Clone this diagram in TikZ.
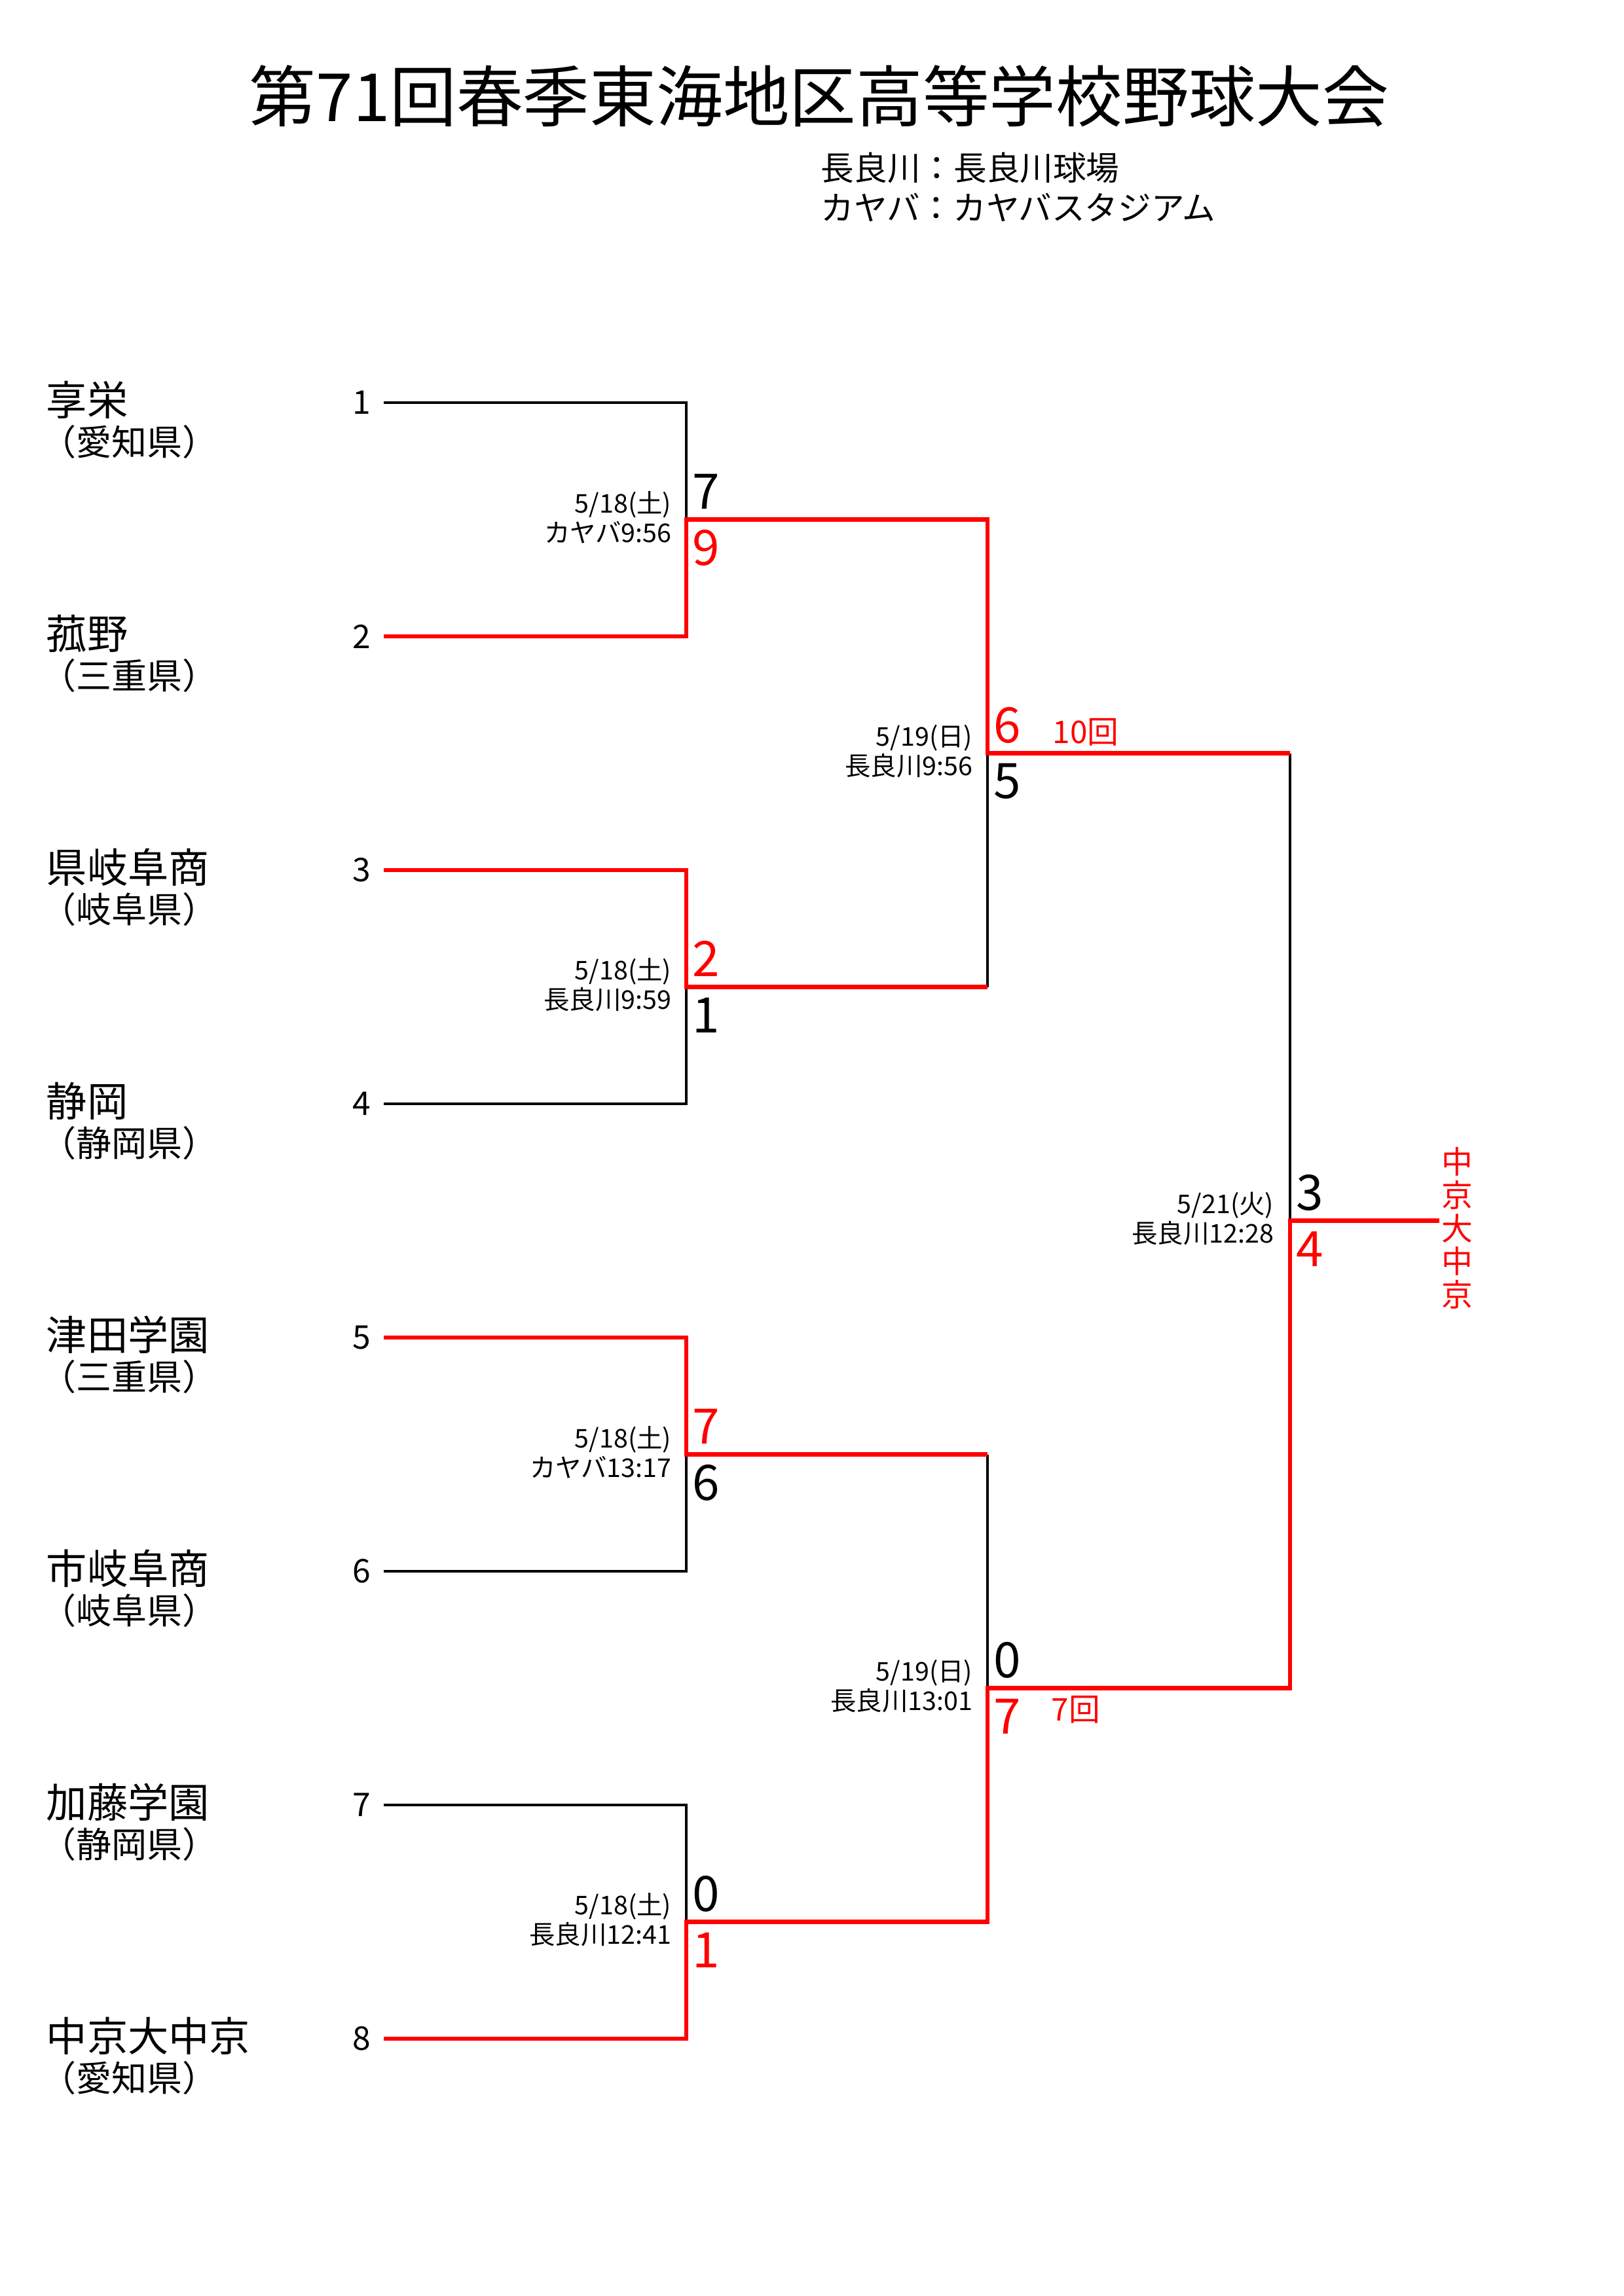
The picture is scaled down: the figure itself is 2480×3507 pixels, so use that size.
\documentclass[tikz,border=0pt]{standalone}
\usepackage{fontspec}
\setmainfont{Noto Sans CJK JP}
\usepackage{tikz}
\usetikzlibrary{positioning}
\usepackage{xcolor}
\definecolor{winred}{RGB}{255,0,0}

\begin{document}
\begin{tikzpicture}[x=0.08467mm, y=-0.08467mm,
    lose/.style={draw=black, line width=0.9pt},
    win/.style={draw=winred, line width=1.6pt},
    team/.style={anchor=west, inner sep=0pt, font=\fontsize{15}{18}\selectfont},
    pref/.style={anchor=west, inner sep=0pt, font=\fontsize{13}{15}\selectfont},
    seed/.style={inner sep=0pt, font=\fontsize{12}{14}\selectfont},
    score/.style={inner sep=0pt, font=\fontsize{18}{20}\selectfont},
    datebox/.style={anchor=east, align=right, inner sep=0pt, font=\fontsize{9.5}{10.8}\selectfont},
    inning/.style={anchor=west, inner sep=0pt, text=winred, font=\fontsize{11.5}{13}\selectfont}]
    \useasboundingbox (0,0) rectangle (2480,3507);

    % title
    \node (title) at (1251,147) {\fontsize{24.5}{28}\selectfont 第71回春季東海地区高等学校野球大会};
    \node[anchor=west, align=left, inner sep=0pt, font=\fontsize{12.2}{14.6}\selectfont] (venue) at (1253,286) {長良川：長良川球場\\カヤバ：カヤバスタジアム};

    % teams
    \node[team] (team1) at (70,611) {享栄};
    \node[pref] (pref1) at (62,675) {（愛知県）};
    \node[team] (team2) at (70,968) {菰野};
    \node[pref] (pref2) at (62,1032) {（三重県）};
    \node[team] (team3) at (70,1325) {県岐阜商};
    \node[pref] (pref3) at (62,1389) {（岐阜県）};
    \node[team] (team4) at (70,1682) {静岡};
    \node[pref] (pref4) at (62,1746) {（静岡県）};
    \node[team] (team5) at (70,2039) {津田学園};
    \node[pref] (pref5) at (62,2103) {（三重県）};
    \node[team] (team6) at (70,2396) {市岐阜商};
    \node[pref] (pref6) at (62,2460) {（岐阜県）};
    \node[team] (team7) at (70,2753) {加藤学園};
    \node[pref] (pref7) at (62,2817) {（静岡県）};
    \node[team] (team8) at (70,3110) {中京大中京};
    \node[pref] (pref8) at (62,3174) {（愛知県）};

    % seed numbers
    \node[seed] (seed1) at (552,615) {1};
    \node[seed] (seed2) at (552,972) {2};
    \node[seed] (seed3) at (552,1329) {3};
    \node[seed] (seed4) at (552,1686) {4};
    \node[seed] (seed5) at (552,2043) {5};
    \node[seed] (seed6) at (552,2400) {6};
    \node[seed] (seed7) at (552,2757) {7};
    \node[seed] (seed8) at (552,3114) {8};

    % bracket points
    \coordinate (t1) at (586,615);
    \coordinate (t2) at (586,972);
    \coordinate (t3) at (586,1329);
    \coordinate (t4) at (586,1686);
    \coordinate (t5) at (586,2043);
    \coordinate (t6) at (586,2400);
    \coordinate (t7) at (586,2757);
    \coordinate (t8) at (586,3114);
    \coordinate (m1) at (1048,793.5);
    \coordinate (m2) at (1048,1507.5);
    \coordinate (m3) at (1048,2221.5);
    \coordinate (m4) at (1048,2935.5);
    \coordinate (n1) at (1508,1150.5);
    \coordinate (n2) at (1508,2578.5);
    \coordinate (f) at (1970,1864.5);
    \coordinate (champ) at (2198,1864.5);

    % losing sides
    \draw[lose] (t1) -| (m1);
    \draw[lose] (t4) -| (m2);
    \draw[lose] (t6) -| (m3);
    \draw[lose] (t7) -| (m4);
    \draw[lose] (m2 -| n1) -- (n1);
    \draw[lose] (m3 -| n2) -- (n2);
    \draw[lose] (n1 -| f) -- (f);

    % winning sides
    \draw[win] (t2) -| (m1) -| (n1) -- (n1 -| f);
    \draw[win] (t3) -| (m2) -- (m2 -| n1);
    \draw[win] (t5) -| (m3) -- (m3 -| n2);
    \draw[win] (t8) -| (m4) -| (n2) -| (f) -- (champ);

    % scores
    \node[score] (sc1a) at ([shift={(30,-43)}]m1) {7};
    \node[score, text=winred] (sc1b) at ([shift={(30,43)}]m1) {9};
    \node[score, text=winred] (sc2a) at ([shift={(30,-43)}]m2) {2};
    \node[score] (sc2b) at ([shift={(30,43)}]m2) {1};
    \node[score, text=winred] (sc3a) at ([shift={(30,-43)}]m3) {7};
    \node[score] (sc3b) at ([shift={(30,43)}]m3) {6};
    \node[score] (sc4a) at ([shift={(30,-43)}]m4) {0};
    \node[score, text=winred] (sc4b) at ([shift={(30,43)}]m4) {1};
    \node[score, text=winred] (sc5a) at ([shift={(30,-43)}]n1) {6};
    \node[score] (sc5b) at ([shift={(30,43)}]n1) {5};
    \node[score] (sc6a) at ([shift={(30,-43)}]n2) {0};
    \node[score, text=winred] (sc6b) at ([shift={(30,43)}]n2) {7};
    \node[score] (sc7a) at ([shift={(30,-43)}]f) {3};
    \node[score, text=winred] (sc7b) at ([shift={(30,43)}]f) {4};

    % dates and venues
    \node[datebox] (date1) at ([shift={(-22,-3)}]m1) {5/18(土)\\カヤバ9:56};
    \node[datebox] (date2) at ([shift={(-22,-3)}]m2) {5/18(土)\\長良川9:59};
    \node[datebox] (date3) at ([shift={(-22,-3)}]m3) {5/18(土)\\カヤバ13:17};
    \node[datebox] (date4) at ([shift={(-22,-3)}]m4) {5/18(土)\\長良川12:41};
    \node[datebox] (date5) at ([shift={(-22,-3)}]n1) {5/19(日)\\長良川9:56};
    \node[datebox] (date6) at ([shift={(-22,-3)}]n2) {5/19(日)\\長良川13:01};
    \node[datebox] (date7) at ([shift={(-24,-3)}]f) {5/21(火)\\長良川12:28};

    % extra innings
    \node[inning] (inn1) at ([shift={(99,-32)}]n1) {10回};
    \node[inning] (inn2) at ([shift={(97,33)}]n2) {7回};

    % champion
    \node[align=center, inner sep=0pt, text=winred, font=\fontsize{11.5}{12.2}\selectfont] (winner) at (2225,1876) {中\\京\\大\\中\\京};
\end{tikzpicture}
\end{document}
